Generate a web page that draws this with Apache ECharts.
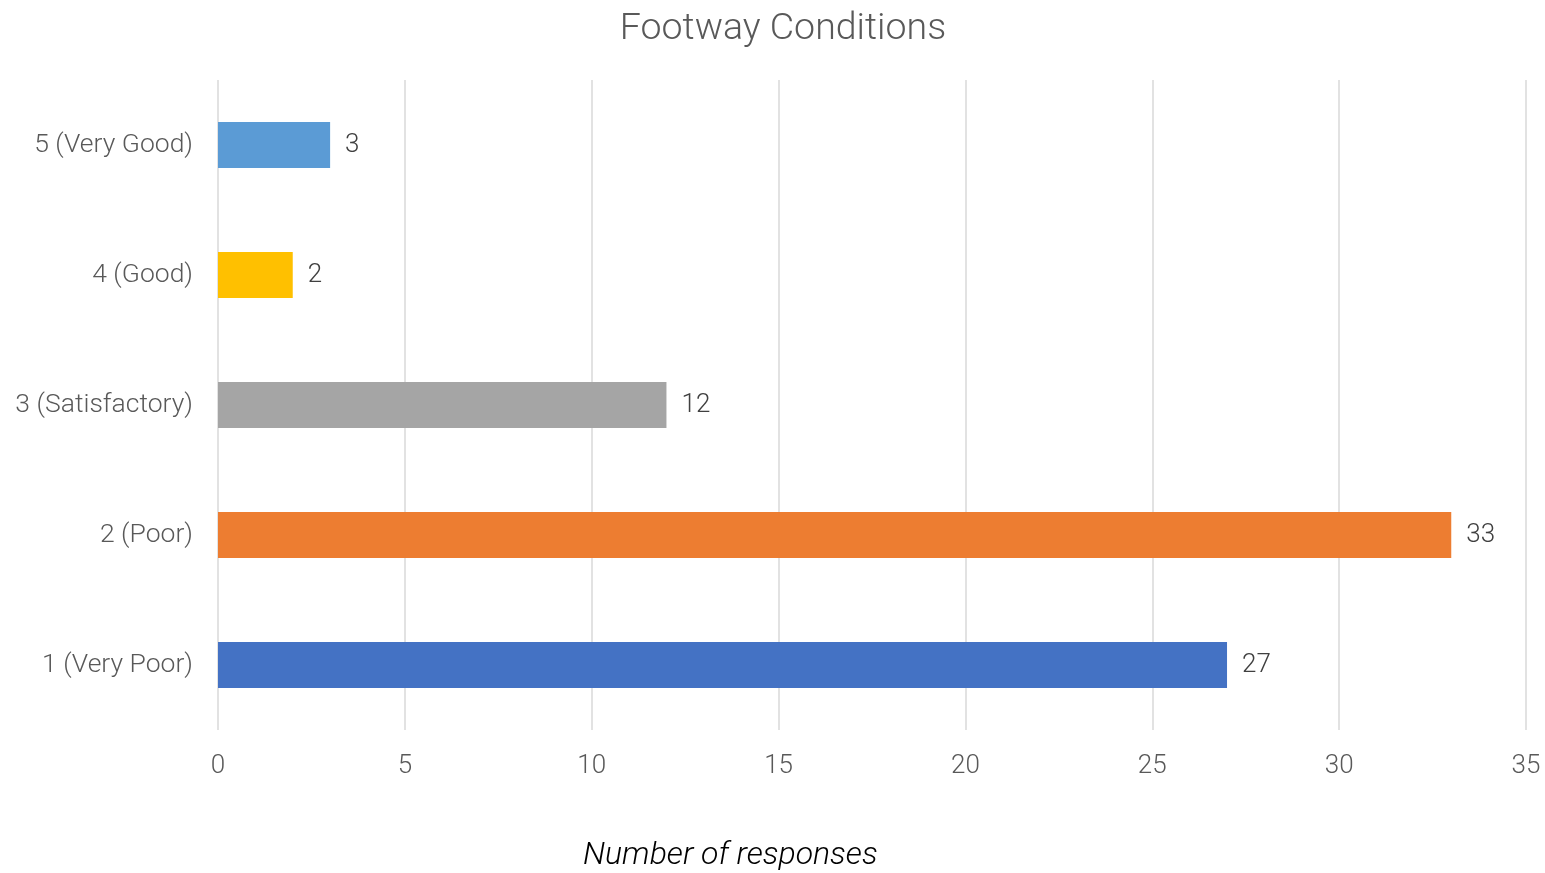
<!DOCTYPE html>
<html><head><meta charset="utf-8">
<script src="https://cdn.jsdelivr.net/npm/echarts@6/dist/echarts.min.js"></script>
<style>html,body{margin:0;padding:0;background:#fff}#c{width:1545px;height:873px}</style>
</head><body><div id="c"></div>
<script>
const categories = ['1 (Very Poor)', '2 (Poor)', '3 (Satisfactory)', '4 (Good)', '5 (Very Good)'];
const values = [27, 33, 12, 2, 3];
const colors = ['#4472C4', '#ED7D31', '#A5A5A5', '#FFC000', '#5B9BD5'];
const xTicks = [0, 5, 10, 15, 20, 25, 30, 35];
const titleText = 'Footway Conditions';
const xName = 'Number of responses';

const chart = echarts.init(document.getElementById('c'), null, {renderer: 'canvas'});
const font = 'Roboto';
chart.setOption({
  animation: false,
  backgroundColor: '#fff',
  title: {
    text: titleText, left: 778, top: 6, textAlign: 'center',
    textStyle: {fontFamily: font, fontWeight: 300, fontSize: 37.5, color: '#595959'}
  },
  grid: {left: 218, right: 19, top: 80, bottom: 143, containLabel: false},
  xAxis: {
    type: 'value', min: 0, max: xTicks[xTicks.length - 1], interval: 5,
    axisLine: {show: false}, axisTick: {show: false},
    splitLine: {lineStyle: {color: '#D9D9D9', width: 1.5}},
    axisLabel: {fontFamily: font, fontWeight: 300, fontSize: 26, color: '#595959', margin: 23}
  },
  yAxis: {
    type: 'category', data: categories,
    axisLine: {show: false}, axisTick: {show: false},
    axisLabel: {fontFamily: font, fontWeight: 300, fontSize: 26.5, color: '#595959', margin: 25, padding: [6, 0, 0, 0]}
  },
  graphic: [{
    type: 'text', left: 583, top: 840,
    style: {text: xName, font: 'italic 300 32px Roboto', fill: '#000'}
  }],
  series: [{
    type: 'bar', barWidth: 46,
    data: values.map((v, i) => ({value: v, itemStyle: {color: colors[i]}})),
    label: {show: true, position: 'right', distance: 15, fontFamily: font, fontWeight: 300, fontSize: 26, color: '#404040', padding: [6, 0, 0, 0]}
  }]
});
</script></body></html>
